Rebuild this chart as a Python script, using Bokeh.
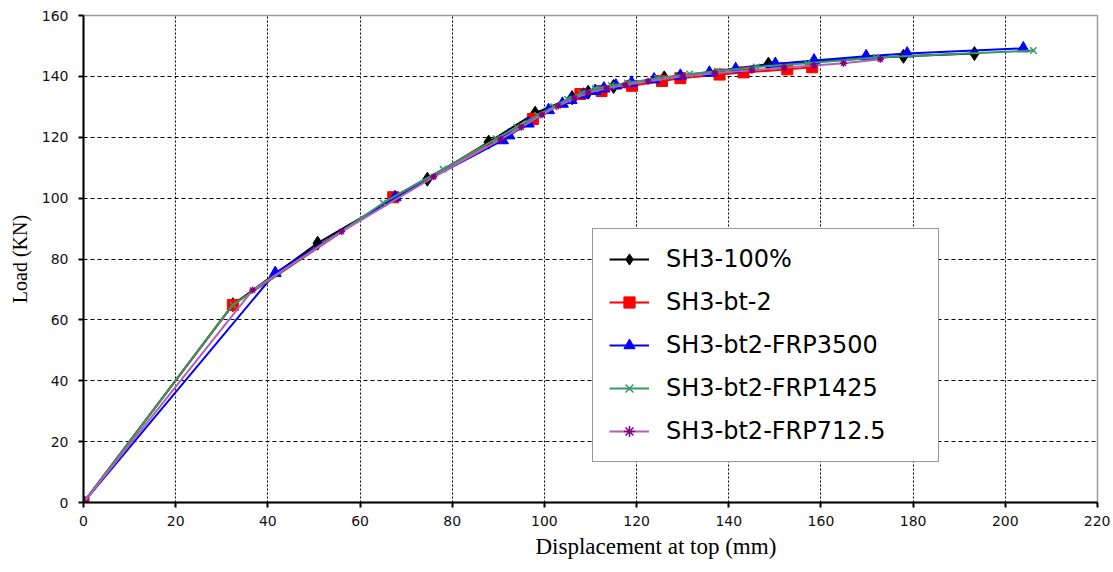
from bokeh.plotting import figure
from bokeh.models import Range1d, FixedTicker, Title
from bokeh.embed import file_html
from bokeh.resources import INLINE

# ---- data ----
x_ticks = [0, 20, 40, 60, 80, 100, 120, 140, 160, 180, 200, 220]
y_ticks = [0, 20, 40, 60, 80, 100, 120, 140, 160]

names = ["SH3-100%", "SH3-bt-2", "SH3-bt2-FRP3500", "SH3-bt2-FRP1425", "SH3-bt2-FRP712.5"]

sh3_100_x = [0, 32.4, 50.8, 74.6, 87.9, 98.0, 106.0, 109.5, 115.0, 126.0, 148.6, 177.9, 193.3]
sh3_100_y = [0, 65.0, 85.2, 106.2, 118.4, 127.9, 133.0, 134.8, 136.7, 139.5, 144.0, 146.6, 147.5]

bt2_x = [0, 32.4, 67.2, 97.5, 107.8, 112.4, 119.0, 125.5, 129.5, 138.0, 143.2, 152.7, 158.1]
bt2_y = [0, 64.9, 100.3, 126.0, 134.2, 135.2, 136.9, 138.5, 139.4, 140.6, 141.3, 142.3, 143.0]

frp3500_x = [0, 41.6, 67.6, 90.9, 92.3, 96.5, 100.9, 103.9, 105.8, 108.5, 111.0, 112.9, 115.5,
             118.9, 123.8, 129.5, 135.8, 141.5, 150.1, 158.5, 169.8, 178.7, 203.9]
frp3500_y = [0, 75.4, 100.3, 119.0, 120.6, 124.5, 128.9, 131.0, 132.2, 134.0, 135.2, 136.0, 137.0,
             137.9, 139.0, 140.2, 141.2, 142.4, 144.1, 145.2, 146.6, 147.5, 149.2]

frp1425_x = [0, 32.4, 65.0, 78.0, 89.5, 94.0, 98.5, 102.0, 105.0, 108.0, 111.0, 114.5, 118.0,
             124.5, 131.5, 137.5, 146.0, 157.0, 172.0, 206.1]
frp1425_y = [0, 64.9, 98.4, 109.5, 119.5, 123.3, 127.2, 130.0, 132.5, 134.5, 136.0, 137.0, 137.8,
             139.4, 140.8, 141.7, 143.1, 144.3, 146.2, 148.5]

frp712_x = [0, 36.7, 56.0, 76.0, 90.5, 95.0, 99.5, 103.0, 106.5, 109.5, 113.5, 117.5, 122.5,
            130.0, 137.0, 145.0, 152.0, 158.5, 164.9, 172.9]
frp712_y = [0, 69.8, 89.0, 107.0, 119.3, 123.3, 127.4, 130.3, 132.8, 134.6, 136.1, 137.2, 138.4,
            140.0, 141.0, 142.0, 142.9, 143.6, 144.3, 145.6]

series = [
    (names[0], sh3_100_x, sh3_100_y, "black", "black", "diamond", 14),
    (names[1], bt2_x, bt2_y, "#FF0000", "#FF0000", "square", 11),
    (names[2], frp3500_x, frp3500_y, "#0000FF", "#0000FF", "triangle", 12),
    (names[3], frp1425_x, frp1425_y, "#339966", "#339966", "x", 9),
    (names[4], frp712_x, frp712_y, "#B060B8", "#800080", "asterisk", 7),
]

p = figure(width=1110, height=566, output_backend="svg", toolbar_location=None,
           x_range=Range1d(0, 220), y_range=Range1d(0, 160),
           min_border_left=83, min_border_right=13, min_border_top=15, min_border_bottom=63)

p.background_fill_color = "white"
p.border_fill_color = "white"
p.outline_line_color = "#9a9a9a"
p.outline_line_width = 1.5

for name, xs, ys, lc, mc, mk, sz in series:
    p.line(xs, ys, line_color=lc, line_width=2, legend_label=name)
    if mk in ("x", "asterisk"):
        p.scatter(xs, ys, marker=mk, size=sz, line_color=mc, line_width=1.5, legend_label=name)
    else:
        p.scatter(xs, ys, marker=mk, size=sz, fill_color=mc, line_color=mc, legend_label=name)

# axes
for ax in (p.xaxis[0], p.yaxis[0]):
    ax.axis_line_color = "black"
    ax.axis_line_width = 2
    ax.major_tick_line_color = "black"
    ax.major_tick_line_width = 2
    ax.major_tick_in = 0
    ax.major_tick_out = 5
    ax.minor_tick_line_color = None
    ax.major_label_text_font = "DejaVu Sans"
    ax.major_label_text_font_size = "14px"
    ax.major_label_text_color = "#111111"

p.xaxis.ticker = FixedTicker(ticks=x_ticks)
p.yaxis.ticker = FixedTicker(ticks=y_ticks)
p.xaxis.major_label_standoff = 8
p.yaxis.major_label_standoff = 10

p.yaxis.axis_label = "Load (KN)"
p.yaxis.axis_label_text_font = "Liberation Serif"
p.yaxis.axis_label_text_font_size = "20px"
p.yaxis.axis_label_text_font_style = "normal"
p.yaxis.axis_label_text_color = "black"
p.yaxis.axis_label_standoff = 8

# grid
p.xgrid.ticker = FixedTicker(ticks=x_ticks[1:-1])
p.ygrid.ticker = FixedTicker(ticks=y_ticks[1:-1])
p.xgrid.grid_line_color = "black"
p.xgrid.grid_line_dash = "2 2"
p.xgrid.grid_line_width = 1
p.ygrid.grid_line_color = "black"
p.ygrid.grid_line_dash = "4 3"
p.ygrid.grid_line_width = 1

# x axis title (off-centre, as in the reference)
p.add_layout(Title(text="Displacement at top (mm)", align="left", offset=452,
                   vertical_align="top", standoff=11,
                   text_font="Liberation Serif", text_font_size="23px",
                   text_font_style="normal", text_color="black"), "below")

# legend
lg = p.legend[0]
lg.location = (509, 40)
lg.background_fill_color = "white"
lg.background_fill_alpha = 1
lg.border_line_color = "#333333"
lg.border_line_width = 1.5
lg.padding = 16
lg.spacing = 15
lg.glyph_width = 40
lg.glyph_height = 28
lg.label_height = 28
lg.label_width = 256
lg.label_standoff = 17
lg.label_text_font = "DejaVu Sans"
lg.label_text_font_size = "24px"
lg.label_text_color = "black"

open("out.html", "w").write(file_html(p, INLINE))
